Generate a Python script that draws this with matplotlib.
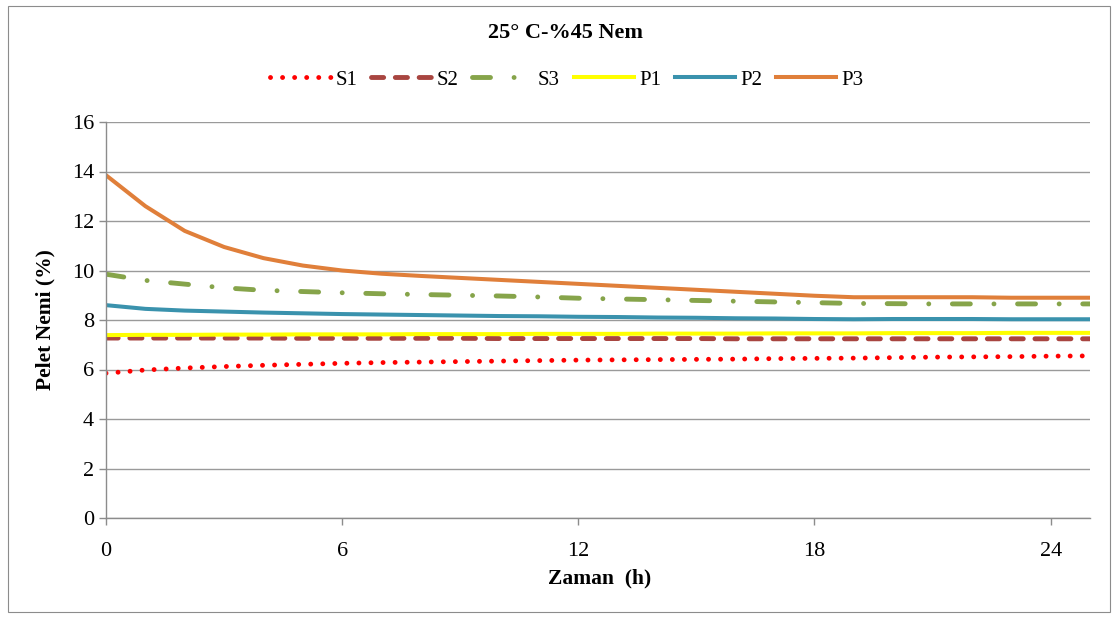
import matplotlib
matplotlib.use("Agg")
import matplotlib.pyplot as plt
from matplotlib.patches import Rectangle

# hourly readings, 0..25 h
hours = list(range(26))
s1 = [5.85, 5.98, 6.06, 6.12, 6.17, 6.21, 6.25, 6.28, 6.30, 6.32, 6.34, 6.36, 6.38,
      6.39, 6.40, 6.41, 6.42, 6.44, 6.45, 6.46, 6.48, 6.50, 6.51, 6.52, 6.54, 6.55]
s2 = [7.27, 7.27, 7.27, 7.27, 7.27, 7.26, 7.26, 7.26, 7.26, 7.26, 7.25, 7.25, 7.25,
      7.25, 7.25, 7.25, 7.24, 7.24, 7.24, 7.24, 7.24, 7.24, 7.24, 7.24, 7.24, 7.24]
s3 = [9.85, 9.60, 9.45, 9.30, 9.20, 9.15, 9.10, 9.06, 9.03, 9.00, 8.97, 8.93, 8.88,
      8.85, 8.82, 8.79, 8.76, 8.73, 8.70, 8.67, 8.66, 8.65, 8.65, 8.65, 8.65, 8.65]
p1 = [7.39, 7.40, 7.40, 7.41, 7.41, 7.42, 7.42, 7.42, 7.43, 7.43, 7.43, 7.44, 7.44,
      7.44, 7.45, 7.45, 7.45, 7.46, 7.46, 7.46, 7.47, 7.47, 7.47, 7.48, 7.48, 7.48]
p2 = [8.60, 8.45, 8.38, 8.34, 8.30, 8.27, 8.24, 8.22, 8.20, 8.18, 8.16, 8.15, 8.13,
      8.12, 8.10, 8.09, 8.07, 8.06, 8.04, 8.03, 8.04, 8.04, 8.04, 8.03, 8.03, 8.03]
p3 = [13.85, 12.60, 11.60, 10.95, 10.50, 10.20, 10.00, 9.87, 9.78, 9.70, 9.62, 9.54, 9.46,
      9.38, 9.30, 9.22, 9.14, 9.06, 8.98, 8.92, 8.92, 8.92, 8.92, 8.90, 8.90, 8.90]

plt.rcParams["font.family"] = ["Liberation Serif", "DejaVu Serif"]

W, H = 1117, 619
fig = plt.figure(figsize=(W / 100, H / 100), dpi=100)
ax = fig.add_axes([106 / W, 1 - 518 / H, (1090 - 106) / W, (518 - 122) / H])

# outer frame of the chart area
fig.add_artist(Rectangle((8 / W, 7 / H), 1102 / W, 606 / H,
                         transform=fig.transFigure, fill=False,
                         edgecolor="#8c8c8c", linewidth=0.8))

ax.plot(hours, s1, color="#ff0000", lw=3.5, linestyle=(0, (0.01, 2.47)),
        dash_capstyle="round", label="S1")
ax.plot(hours, s2, color="#a84540", lw=3.5, linestyle=(0, (2.5, 2.4)),
        dash_capstyle="round", label="S2")
ax.plot(hours, s3, color="#86a44a", lw=3.5, linestyle=(0, (3.7, 4.85, 0.01, 4.85)),
        dash_capstyle="round", label="S3")
ax.plot(hours, p1, color="#ffff00", lw=2.9, label="P1")
ax.plot(hours, p2, color="#3a92ad", lw=2.9, label="P2")
ax.plot(hours, p3, color="#e07f3a", lw=2.9, label="P3")

ax.set_xlim(0, 25)
ax.set_ylim(0, 16)
ax.set_xticks([0, 6, 12, 18, 24])
ax.set_yticks(range(0, 17, 2))
ax.tick_params(labelsize=16, color="#8c8c8c", length=5, width=1, direction="out")
ax.tick_params(axis="x", pad=12)
ax.grid(axis="y", color="#9a9a9a", lw=1)
ax.set_axisbelow(True)
for side in ("top", "right"):
    ax.spines[side].set_visible(False)
for side in ("left", "bottom"):
    ax.spines[side].set_color("#8c8c8c")
    ax.spines[side].set_linewidth(1)

fig.text(600 / W, 1 - 578 / H, "Zaman  (h)", ha="center", va="center",
         fontsize=15.5, fontweight="bold")
fig.text(45 / W, 1 - 320 / H, "Pelet Nemi (%)", ha="center", va="center",
         rotation=90, fontsize=15.5, fontweight="bold")
fig.text(566 / W, 1 - 33 / H, "25° C-%45 Nem", ha="center", va="center",
         fontsize=16, fontweight="bold")
fig.legend(loc="center", bbox_to_anchor=(567 / W, 1 - 80 / H), ncol=6,
           frameon=False, fontsize=15, handlelength=2.9, columnspacing=0.65,
           handletextpad=0.25)

fig.savefig("out.png", dpi=100)
